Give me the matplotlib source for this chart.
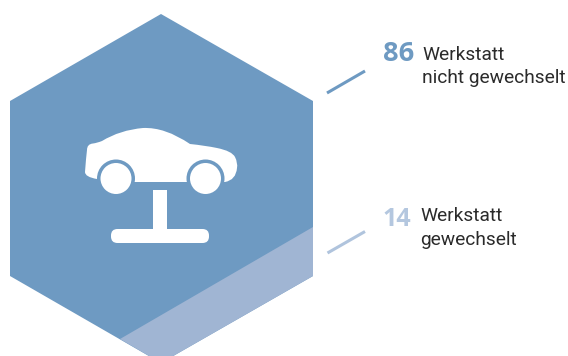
import matplotlib
matplotlib.use('Agg')
from matplotlib import pyplot as plt
from matplotlib.patches import Circle, FancyBboxPatch, PathPatch, Polygon, Rectangle
from matplotlib.path import Path

BLUE = '#6e9ac2'
LIGHT = '#a0b5d3'
TEXT = '#2b2b2b'

shares = ['86', '14']
labels = ['Werkstatt\nnicht gewechselt', 'Werkstatt\ngewechselt']
share_colors = [BLUE, '#b4c7df']
share_sizes = [19.5, 18]
line_colors = [BLUE, '#b0c4dd']
number_pos = [(382.5, 54), (382.5, 219)]
label_pos = [(422, 66.5), (420, 228)]
leader_lines = [((327, 93), (365, 71)), ((327.5, 253), (365, 231.5))]

hexagon = [(161, 14), (313, 101), (313, 276), (161, 363), (10, 276), (10, 101)]
lower_band = [(313, 227), (120, 339), (161, 363), (313, 276)]

# car outline, picture coords
car_verts = [
    (85, 172),
    (86, 158), (87, 150),
    (87, 144), (93, 143.5),
    (97, 143), (102, 141),
    (120, 130), (143, 128),
    (165, 127), (190, 144),
    (205, 145.5), (217, 148),
    (232, 151), (235, 157),
    (238, 163), (237, 168),
    (236, 180), (225, 182),
    (135, 182),
    (97, 179),
    (85, 177), (85, 172),
    (85, 172),
]
car_codes = ([Path.MOVETO] + [Path.CURVE3] * 18 + [Path.LINETO] * 2
             + [Path.CURVE3] * 2 + [Path.CLOSEPOLY])
wheels_x = [116, 205.5]

fig = plt.figure(figsize=(5.68, 3.56), dpi=100)
ax = fig.add_axes([0, 0, 1, 1])
ax.set_xlim(0, 568)
ax.set_ylim(356, 0)
ax.axis('off')

ax.add_patch(Polygon(hexagon, closed=True, fc=BLUE, ec='none'))
ax.add_patch(Polygon(lower_band, closed=True, fc=LIGHT, ec='none'))

ax.add_patch(PathPatch(Path(car_verts, car_codes), fc='white', ec='none'))
for x in wheels_x:
    ax.add_patch(Circle((x, 178.5), 19, fc=BLUE, ec='none'))
    ax.add_patch(Circle((x, 178.5), 15.5, fc='white', ec='none'))

ax.add_patch(Rectangle((153.3, 190), 13.4, 40, fc='white', ec='none'))
ax.add_patch(FancyBboxPatch((111, 229), 98, 14, boxstyle='round,pad=0,rounding_size=6.5',
                            fc='white', ec='none'))

for i in range(2):
    (x0, y0), (x1, y1) = leader_lines[i]
    ax.plot([x0, x1], [y0, y1], color=line_colors[i], lw=2.2, solid_capstyle='butt')
    ax.text(number_pos[i][0], number_pos[i][1], shares[i], color=share_colors[i],
            fontsize=share_sizes[i], fontweight='bold', family='Open Sans', va='center', ha='left')
    ax.text(label_pos[i][0], label_pos[i][1], labels[i], color=TEXT, fontsize=13.8,
            family='Roboto', va='center', ha='left', linespacing=1.4)

fig.savefig('out.png', dpi=100)
